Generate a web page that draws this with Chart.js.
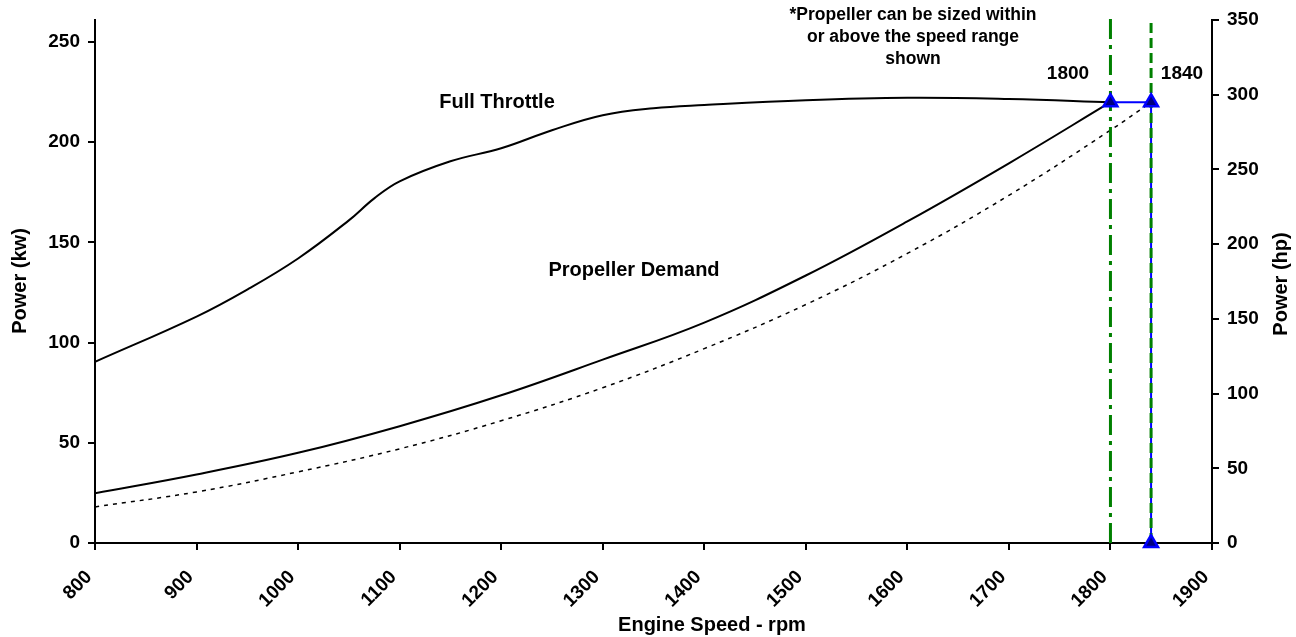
<!DOCTYPE html>
<html>
<head>
<meta charset="utf-8">
<title>Power vs Engine Speed</title>
<script src="https://cdn.jsdelivr.net/npm/chart.js@4.4.0/dist/chart.umd.min.js"></script>
<style>
    body { margin: 0; background: #fff; }
</style>
</head>
<body>
<canvas id="powerChart" width="1296" height="637"></canvas>
<script>
// full throttle curve, kW
var fullRpm = [800, 900, 950, 1000, 1050, 1075, 1100, 1150, 1200, 1250, 1300, 1350, 1400, 1500, 1600, 1700, 1800];
var fullKw  = [90.4, 113, 126.5, 142, 161, 172, 180.5, 190.5, 197, 206, 213.5, 217, 218.6, 221, 222.2, 221.6, 220];

// propeller demand, kW
var propRpm = [800, 900, 1000, 1100, 1200, 1300, 1400, 1500, 1600, 1700, 1800];
var propKw  = [24.8, 34.2, 45, 58.3, 73.7, 91.5, 110, 133.5, 160.5, 189.5, 220];

// propeller curve through 1840 (dotted)
var prop2Rpm = [800, 900, 1000, 1100, 1200, 1300, 1400, 1500, 1600, 1700, 1800, 1840];
var prop2Kw  = [18, 25.5, 35.5, 47, 61, 77.5, 97, 119, 144.5, 173.5, 206, 220];

// rated point markers
var ratedRpm = [1800, 1840, 1840];
var ratedKw  = [220, 220, 0];

// vertical speed lines
var lineRpm = [1800, 1840];
var lineTopKw = [264, 261];

var xTicks = [800, 1900, 100];
var hpTicks = [0, 350, 50];
var kwToHp = 1.341;

var fontFamily = '"Liberation Sans", Arial, sans-serif';

function toPoints(xs, ys) {
    var out = [];
    for (var i = 0; i < xs.length; i++) {
        out.push({x: xs[i], y: ys[i]});
    }
    return out;
}

function rotatedText(ctx, text, x, y) {
    ctx.save();
    ctx.translate(x, y);
    ctx.rotate(-Math.PI / 2);
    ctx.fillText(text, 0, 0);
    ctx.restore();
}

var textPlugin = {
    id: 'chartText',
    afterDraw: function(chart) {
        var ctx = chart.ctx;
        ctx.save();
        ctx.fillStyle = '#000';
        ctx.textAlign = 'center';
        ctx.textBaseline = 'middle';

        ctx.font = 'bold 20px ' + fontFamily;
        ctx.fillText('Full Throttle', 497, 102);
        ctx.fillText('Propeller Demand', 634, 270);
        ctx.font = 'bold 19px ' + fontFamily;
        ctx.fillText('1800', 1068, 74);
        ctx.fillText('1840', 1182, 74);

        ctx.font = 'bold 17.5px ' + fontFamily;
        ctx.fillText('*Propeller can be sized within', 913, 15);
        ctx.fillText('or above the speed range', 913, 37);
        ctx.fillText('shown', 913, 59);

        ctx.font = 'bold 20px ' + fontFamily;
        ctx.fillText('Engine Speed - rpm', 712, 625);
        rotatedText(ctx, 'Power (kw)', 20, 281);
        rotatedText(ctx, 'Power (hp)', 1281, 284);
        ctx.restore();
    }
};

function drawPowerChart(div) {
    var ctx = document.getElementById(div).getContext('2d');
    var tickFont = {family: fontFamily, size: 19, weight: 'bold'};

    var chart = new Chart(ctx, {
        type: 'line',
        data: {
            datasets: [
                {
                    label: 'Rated markers',
                    data: toPoints(ratedRpm, ratedKw),
                    showLine: false,
                    pointStyle: 'triangle',
                    pointRadius: 8,
                    pointBackgroundColor: '#000080',
                    pointBorderColor: '#0000ff',
                    pointBorderWidth: 2.5,
                    clip: false,
                    order: 1
                },
                {
                    label: '1840 line',
                    data: [{x: lineRpm[1], y: 0}, {x: lineRpm[1], y: lineTopKw[1]}],
                    borderColor: '#008000',
                    borderWidth: 3,
                    borderDash: [10, 5],
                    pointRadius: 0,
                    clip: false,
                    order: 2
                },
                {
                    label: '1800 line',
                    data: [{x: lineRpm[0], y: 0}, {x: lineRpm[0], y: lineTopKw[0]}],
                    borderColor: '#008000',
                    borderWidth: 3,
                    borderDash: [20, 6, 4, 6],
                    pointRadius: 0,
                    clip: false,
                    order: 3
                },
                {
                    label: 'Rated',
                    data: toPoints(ratedRpm, ratedKw),
                    borderColor: '#0000ff',
                    borderWidth: 2,
                    pointRadius: 0,
                    order: 4
                },
                {
                    label: 'Full Throttle',
                    data: toPoints(fullRpm, fullKw),
                    borderColor: '#000',
                    borderWidth: 2,
                    pointRadius: 0,
                    tension: 0.4,
                    order: 5
                },
                {
                    label: 'Propeller Demand',
                    data: toPoints(propRpm, propKw),
                    borderColor: '#000',
                    borderWidth: 2,
                    pointRadius: 0,
                    tension: 0.4,
                    order: 6
                },
                {
                    label: 'Propeller 1840',
                    data: toPoints(prop2Rpm, prop2Kw),
                    borderColor: '#000',
                    borderWidth: 1.5,
                    borderDash: [4, 5],
                    pointRadius: 0,
                    tension: 0.4,
                    order: 7
                }
            ]
        },
        options: {
            responsive: false,
            animation: false,
            layout: {
                padding: {top: 20, left: 0, right: 0, bottom: 0}
            },
            plugins: {
                legend: {display: false},
                tooltip: {enabled: false}
            },
            scales: {
                x: {
                    type: 'linear',
                    min: xTicks[0],
                    max: xTicks[1],
                    afterFit: function(scale) { scale.height = 94; },
                    border: {display: true, color: '#000', width: 2},
                    grid: {drawOnChartArea: false, color: '#000', lineWidth: 2, tickLength: 7},
                    ticks: {
                        stepSize: xTicks[2],
                        autoSkip: false,
                        minRotation: 45,
                        maxRotation: 45,
                        color: '#000',
                        font: tickFont,
                        padding: 16,
                        labelOffset: -6,
                        callback: function(v) { return String(v); }
                    }
                },
                y: {
                    type: 'linear',
                    position: 'left',
                    min: 0,
                    max: hpTicks[1] / kwToHp,
                    afterFit: function(scale) { scale.width = 95; },
                    border: {display: true, color: '#000', width: 2},
                    grid: {drawOnChartArea: false, color: '#000', lineWidth: 2, tickLength: 7},
                    ticks: {
                        stepSize: 50,
                        includeBounds: false,
                        color: '#000',
                        font: tickFont,
                        padding: 8
                    }
                },
                y2: {
                    type: 'linear',
                    position: 'right',
                    min: hpTicks[0],
                    max: hpTicks[1],
                    afterFit: function(scale) { scale.width = 84; },
                    border: {display: true, color: '#000', width: 2},
                    grid: {drawOnChartArea: false, color: '#000', lineWidth: 2, tickLength: 7},
                    ticks: {
                        stepSize: hpTicks[2],
                        color: '#000',
                        font: tickFont,
                        padding: 8
                    }
                }
            }
        },
        plugins: [textPlugin]
    });
    return chart;
}

drawPowerChart('powerChart');
</script>
</body>
</html>
